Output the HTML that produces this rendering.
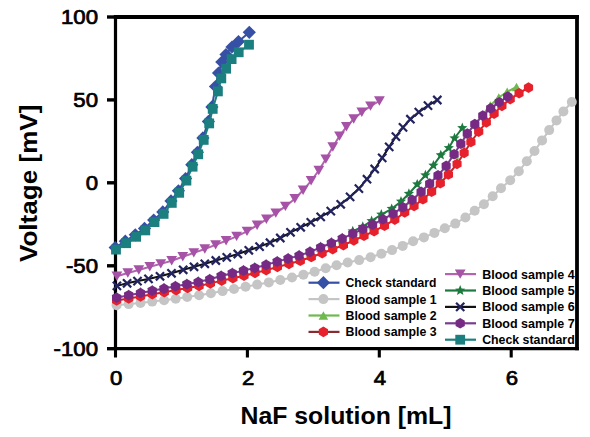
<!DOCTYPE html>
<html><head><meta charset="utf-8"><style>
html,body{margin:0;padding:0;background:#fff;width:590px;height:437px;overflow:hidden}
svg{display:block}
text{font-family:"Liberation Sans",sans-serif;font-weight:bold;fill:#000}
.lg{font-size:12.4px}
.tk{font-size:19.3px;font-weight:normal;stroke:#000;stroke-width:0.7px}
.ax{font-size:23px}
</style></head><body>
<svg width="590" height="437" viewBox="0 0 590 437">
<path d="M113.9 17H578.9" fill="none" stroke="#000" stroke-width="4"/>
<path d="M113.9 348.7H578.9" fill="none" stroke="#000" stroke-width="3.3"/>
<path d="M115.5 15V350.34999999999997" fill="none" stroke="#000" stroke-width="3.2"/>
<path d="M577 15V350.34999999999997" fill="none" stroke="#000" stroke-width="3.8"/>
<path d="M107 17.0H115.5" stroke="#000" stroke-width="3.4"/>
<path d="M107 99.9H115.5" stroke="#000" stroke-width="3.4"/>
<path d="M107 182.8H115.5" stroke="#000" stroke-width="3.4"/>
<path d="M107 265.8H115.5" stroke="#000" stroke-width="3.4"/>
<path d="M107 348.7H115.5" stroke="#000" stroke-width="3.4"/>
<path d="M115.5 348.7V357.5" stroke="#000" stroke-width="3.1"/>
<path d="M247.4 348.7V357.5" stroke="#000" stroke-width="3.1"/>
<path d="M379.3 348.7V357.5" stroke="#000" stroke-width="3.1"/>
<path d="M511.2 348.7V357.5" stroke="#000" stroke-width="3.1"/>
<path d="M115.2 247.6L125.3 241.2L135.3 234.8L144.5 228.4L153.7 220.1L162.8 211.9L171.0 200.9L178.4 190.8L185.6 178.6L191.8 164.7L197.4 152.3L202.9 137.9L208.4 121.4L211.9 106.9L215.5 86.5L218.5 73.0L221.8 62.0L226.0 54.5L232.0 47.0L238.5 41.5L249.3 32.3" fill="none" stroke="#3550a5" stroke-width="2"/>
<path d="M115.2 241.0L121.8 247.6L115.2 254.2L108.6 247.6Z" fill="#3550a5"/>
<path d="M125.3 234.6L131.9 241.2L125.3 247.8L118.7 241.2Z" fill="#3550a5"/>
<path d="M135.3 228.2L141.9 234.8L135.3 241.4L128.7 234.8Z" fill="#3550a5"/>
<path d="M144.5 221.8L151.1 228.4L144.5 235.0L137.9 228.4Z" fill="#3550a5"/>
<path d="M153.7 213.5L160.3 220.1L153.7 226.7L147.1 220.1Z" fill="#3550a5"/>
<path d="M162.8 205.3L169.4 211.9L162.8 218.5L156.2 211.9Z" fill="#3550a5"/>
<path d="M171.0 194.3L177.6 200.9L171.0 207.5L164.4 200.9Z" fill="#3550a5"/>
<path d="M178.4 184.2L185.0 190.8L178.4 197.4L171.8 190.8Z" fill="#3550a5"/>
<path d="M185.6 172.0L192.2 178.6L185.6 185.2L179.0 178.6Z" fill="#3550a5"/>
<path d="M191.8 158.1L198.4 164.7L191.8 171.3L185.2 164.7Z" fill="#3550a5"/>
<path d="M197.4 145.7L204.0 152.3L197.4 158.9L190.8 152.3Z" fill="#3550a5"/>
<path d="M202.9 131.3L209.5 137.9L202.9 144.5L196.3 137.9Z" fill="#3550a5"/>
<path d="M208.4 114.8L215.0 121.4L208.4 128.0L201.8 121.4Z" fill="#3550a5"/>
<path d="M211.9 100.3L218.5 106.9L211.9 113.5L205.3 106.9Z" fill="#3550a5"/>
<path d="M215.5 79.9L222.1 86.5L215.5 93.1L208.9 86.5Z" fill="#3550a5"/>
<path d="M218.5 66.4L225.1 73.0L218.5 79.6L211.9 73.0Z" fill="#3550a5"/>
<path d="M221.8 55.4L228.4 62.0L221.8 68.6L215.2 62.0Z" fill="#3550a5"/>
<path d="M226.0 47.9L232.6 54.5L226.0 61.1L219.4 54.5Z" fill="#3550a5"/>
<path d="M232.0 40.4L238.6 47.0L232.0 53.6L225.4 47.0Z" fill="#3550a5"/>
<path d="M238.5 34.9L245.1 41.5L238.5 48.1L231.9 41.5Z" fill="#3550a5"/>
<path d="M249.3 25.7L255.9 32.3L249.3 38.9L242.7 32.3Z" fill="#3550a5"/>
<path d="M116.6 305.2L128.7 304.1L140.5 302.9L152.2 301.6L164.1 300.3L175.7 298.8L187.2 297.0L199.1 295.2L210.9 293.2L222.6 291.1L234.0 289.0L245.6 286.8L257.2 284.6L268.8 282.4L280.3 280.0L292.0 277.5L303.4 274.8L314.6 271.7L325.7 268.2L336.6 265.2L347.7 262.5L359.2 260.1L370.6 257.2L381.4 253.8L392.1 250.1L402.7 245.9L413.1 241.3L423.9 237.4L434.4 232.9L444.8 228.3L455.3 223.6L465.4 217.5L474.7 210.7L483.9 204.2L492.7 196.2L501.0 188.3L510.2 180.2L518.8 171.2L526.8 161.3L534.5 151.0L542.1 140.4L549.2 130.1L556.5 120.4L563.4 111.5L571.8 102.0" fill="none" stroke="#c5c5c5" stroke-width="2"/>
<circle cx="116.6" cy="305.2" r="5.0" fill="#c5c5c5"/>
<circle cx="128.7" cy="304.1" r="5.0" fill="#c5c5c5"/>
<circle cx="140.5" cy="302.9" r="5.0" fill="#c5c5c5"/>
<circle cx="152.2" cy="301.6" r="5.0" fill="#c5c5c5"/>
<circle cx="164.1" cy="300.3" r="5.0" fill="#c5c5c5"/>
<circle cx="175.7" cy="298.8" r="5.0" fill="#c5c5c5"/>
<circle cx="187.2" cy="297.0" r="5.0" fill="#c5c5c5"/>
<circle cx="199.1" cy="295.2" r="5.0" fill="#c5c5c5"/>
<circle cx="210.9" cy="293.2" r="5.0" fill="#c5c5c5"/>
<circle cx="222.6" cy="291.1" r="5.0" fill="#c5c5c5"/>
<circle cx="234.0" cy="289.0" r="5.0" fill="#c5c5c5"/>
<circle cx="245.6" cy="286.8" r="5.0" fill="#c5c5c5"/>
<circle cx="257.2" cy="284.6" r="5.0" fill="#c5c5c5"/>
<circle cx="268.8" cy="282.4" r="5.0" fill="#c5c5c5"/>
<circle cx="280.3" cy="280.0" r="5.0" fill="#c5c5c5"/>
<circle cx="292.0" cy="277.5" r="5.0" fill="#c5c5c5"/>
<circle cx="303.4" cy="274.8" r="5.0" fill="#c5c5c5"/>
<circle cx="314.6" cy="271.7" r="5.0" fill="#c5c5c5"/>
<circle cx="325.7" cy="268.2" r="5.0" fill="#c5c5c5"/>
<circle cx="336.6" cy="265.2" r="5.0" fill="#c5c5c5"/>
<circle cx="347.7" cy="262.5" r="5.0" fill="#c5c5c5"/>
<circle cx="359.2" cy="260.1" r="5.0" fill="#c5c5c5"/>
<circle cx="370.6" cy="257.2" r="5.0" fill="#c5c5c5"/>
<circle cx="381.4" cy="253.8" r="5.0" fill="#c5c5c5"/>
<circle cx="392.1" cy="250.1" r="5.0" fill="#c5c5c5"/>
<circle cx="402.7" cy="245.9" r="5.0" fill="#c5c5c5"/>
<circle cx="413.1" cy="241.3" r="5.0" fill="#c5c5c5"/>
<circle cx="423.9" cy="237.4" r="5.0" fill="#c5c5c5"/>
<circle cx="434.4" cy="232.9" r="5.0" fill="#c5c5c5"/>
<circle cx="444.8" cy="228.3" r="5.0" fill="#c5c5c5"/>
<circle cx="455.3" cy="223.6" r="5.0" fill="#c5c5c5"/>
<circle cx="465.4" cy="217.5" r="5.0" fill="#c5c5c5"/>
<circle cx="474.7" cy="210.7" r="5.0" fill="#c5c5c5"/>
<circle cx="483.9" cy="204.2" r="5.0" fill="#c5c5c5"/>
<circle cx="492.7" cy="196.2" r="5.0" fill="#c5c5c5"/>
<circle cx="501.0" cy="188.3" r="5.0" fill="#c5c5c5"/>
<circle cx="510.2" cy="180.2" r="5.0" fill="#c5c5c5"/>
<circle cx="518.8" cy="171.2" r="5.0" fill="#c5c5c5"/>
<circle cx="526.8" cy="161.3" r="5.0" fill="#c5c5c5"/>
<circle cx="534.5" cy="151.0" r="5.0" fill="#c5c5c5"/>
<circle cx="542.1" cy="140.4" r="5.0" fill="#c5c5c5"/>
<circle cx="549.2" cy="130.1" r="5.0" fill="#c5c5c5"/>
<circle cx="556.5" cy="120.4" r="5.0" fill="#c5c5c5"/>
<circle cx="563.4" cy="111.5" r="5.0" fill="#c5c5c5"/>
<circle cx="571.8" cy="102.0" r="5.0" fill="#c5c5c5"/>
<path d="M475.1 124.4L490.3 105.5L498.8 97.5L507.2 91.8L516.5 87.0" fill="none" stroke="#6fb94f" stroke-width="2"/>
<path d="M116.9 293.7L121.7 302.3L112.1 302.3Z" fill="#6fb94f"/>
<path d="M129.0 291.3L133.8 299.9L124.2 299.9Z" fill="#6fb94f"/>
<path d="M140.8 289.0L145.6 297.6L136.0 297.6Z" fill="#6fb94f"/>
<path d="M152.5 286.7L157.3 295.3L147.7 295.3Z" fill="#6fb94f"/>
<path d="M164.3 284.6L169.1 293.2L159.5 293.2Z" fill="#6fb94f"/>
<path d="M175.7 282.3L180.5 290.9L170.9 290.9Z" fill="#6fb94f"/>
<path d="M187.2 280.2L192.0 288.8L182.4 288.8Z" fill="#6fb94f"/>
<path d="M198.5 278.0L203.3 286.6L193.7 286.6Z" fill="#6fb94f"/>
<path d="M210.0 275.3L214.8 283.9L205.2 283.9Z" fill="#6fb94f"/>
<path d="M221.4 272.0L226.2 280.6L216.6 280.6Z" fill="#6fb94f"/>
<path d="M232.6 269.2L237.4 277.8L227.8 277.8Z" fill="#6fb94f"/>
<path d="M243.8 266.6L248.6 275.2L239.0 275.2Z" fill="#6fb94f"/>
<path d="M255.1 264.0L259.9 272.6L250.3 272.6Z" fill="#6fb94f"/>
<path d="M266.4 260.9L271.2 269.5L261.6 269.5Z" fill="#6fb94f"/>
<path d="M277.5 257.6L282.3 266.2L272.7 266.2Z" fill="#6fb94f"/>
<path d="M288.4 254.6L293.2 263.2L283.6 263.2Z" fill="#6fb94f"/>
<path d="M299.4 251.6L304.2 260.2L294.6 260.2Z" fill="#6fb94f"/>
<path d="M310.3 247.9L315.1 256.5L305.5 256.5Z" fill="#6fb94f"/>
<path d="M320.9 243.5L325.7 252.1L316.1 252.1Z" fill="#6fb94f"/>
<path d="M331.7 239.0L336.5 247.6L326.9 247.6Z" fill="#6fb94f"/>
<path d="M342.5 234.6L347.3 243.2L337.7 243.2Z" fill="#6fb94f"/>
<path d="M353.1 229.6L357.9 238.2L348.3 238.2Z" fill="#6fb94f"/>
<path d="M363.1 225.0L367.9 233.6L358.3 233.6Z" fill="#6fb94f"/>
<path d="M372.9 220.6L377.7 229.2L368.1 229.2Z" fill="#6fb94f"/>
<path d="M383.2 215.3L388.0 223.9L378.4 223.9Z" fill="#6fb94f"/>
<path d="M393.4 209.6L398.2 218.2L388.6 218.2Z" fill="#6fb94f"/>
<path d="M403.1 203.3L407.9 211.9L398.3 211.9Z" fill="#6fb94f"/>
<path d="M412.4 195.9L417.2 204.5L407.6 204.5Z" fill="#6fb94f"/>
<path d="M421.4 187.8L426.2 196.4L416.6 196.4Z" fill="#6fb94f"/>
<path d="M430.0 179.5L434.8 188.1L425.2 188.1Z" fill="#6fb94f"/>
<path d="M438.3 171.3L443.1 179.9L433.5 179.9Z" fill="#6fb94f"/>
<path d="M446.5 161.9L451.3 170.5L441.7 170.5Z" fill="#6fb94f"/>
<path d="M454.4 150.2L459.2 158.8L449.6 158.8Z" fill="#6fb94f"/>
<path d="M461.1 139.7L465.9 148.3L456.3 148.3Z" fill="#6fb94f"/>
<path d="M467.6 129.6L472.4 138.2L462.8 138.2Z" fill="#6fb94f"/>
<path d="M475.1 120.1L479.9 128.7L470.3 128.7Z" fill="#6fb94f"/>
<path d="M490.3 101.2L495.1 109.8L485.5 109.8Z" fill="#6fb94f"/>
<path d="M498.8 93.2L503.6 101.8L494.0 101.8Z" fill="#6fb94f"/>
<path d="M507.2 87.5L512.0 96.1L502.4 96.1Z" fill="#6fb94f"/>
<path d="M516.5 82.7L521.3 91.3L511.7 91.3Z" fill="#6fb94f"/>
<path d="M116.6 300.5L128.7 298.5L140.5 296.4L152.3 294.2L164.3 292.2L176.2 290.1L187.6 288.0L199.1 285.9L210.4 283.4L221.7 280.6L232.9 278.2L244.0 275.7L255.0 273.0L266.2 270.1L277.4 267.0L289.0 263.9L300.3 260.7L311.3 257.0L322.2 253.2L332.7 249.2L343.4 245.1L353.8 240.5L364.0 235.8L374.1 231.1L384.5 225.7L394.8 219.6L404.7 212.5L414.1 206.0L422.9 199.3L431.6 191.7L440.3 183.3L448.4 174.5L457.0 164.0L464.2 152.9L470.9 142.0L478.7 131.7L486.3 122.4L494.1 113.6L501.9 105.9L510.2 99.1L519.1 93.2L528.5 87.6" fill="none" stroke="#c8242c" stroke-width="2"/>
<path d="M116.6 295.2L112.0 297.9L112.0 303.1L116.6 305.8L121.2 303.1L121.2 297.9Z" fill="#e7212c"/>
<path d="M128.7 293.2L124.1 295.9L124.1 301.1L128.7 303.8L133.3 301.1L133.3 295.9Z" fill="#e7212c"/>
<path d="M140.5 291.1L135.9 293.8L135.9 299.1L140.5 301.7L145.1 299.1L145.1 293.8Z" fill="#e7212c"/>
<path d="M152.3 288.9L147.7 291.5L147.7 296.8L152.3 299.5L156.9 296.8L156.9 291.5Z" fill="#e7212c"/>
<path d="M164.3 286.9L159.8 289.5L159.8 294.8L164.3 297.5L168.9 294.8L168.9 289.5Z" fill="#e7212c"/>
<path d="M176.2 284.8L171.6 287.4L171.6 292.7L176.2 295.4L180.7 292.7L180.7 287.4Z" fill="#e7212c"/>
<path d="M187.6 282.7L183.0 285.4L183.0 290.6L187.6 293.3L192.2 290.6L192.2 285.4Z" fill="#e7212c"/>
<path d="M199.1 280.6L194.5 283.3L194.5 288.6L199.1 291.2L203.7 288.6L203.7 283.3Z" fill="#e7212c"/>
<path d="M210.4 278.1L205.8 280.8L205.8 286.1L210.4 288.7L215.0 286.1L215.0 280.8Z" fill="#e7212c"/>
<path d="M221.7 275.3L217.1 277.9L217.1 283.2L221.7 285.9L226.3 283.2L226.3 277.9Z" fill="#e7212c"/>
<path d="M232.9 272.9L228.3 275.5L228.3 280.8L232.9 283.5L237.5 280.8L237.5 275.5Z" fill="#e7212c"/>
<path d="M244.0 270.4L239.4 273.0L239.4 278.3L244.0 281.0L248.6 278.3L248.6 273.0Z" fill="#e7212c"/>
<path d="M255.0 267.7L250.5 270.3L250.5 275.6L255.0 278.3L259.6 275.6L259.6 270.3Z" fill="#e7212c"/>
<path d="M266.2 264.8L261.6 267.4L261.6 272.7L266.2 275.4L270.8 272.7L270.8 267.4Z" fill="#e7212c"/>
<path d="M277.4 261.7L272.9 264.3L272.9 269.6L277.4 272.3L282.0 269.6L282.0 264.3Z" fill="#e7212c"/>
<path d="M289.0 258.6L284.4 261.2L284.4 266.5L289.0 269.2L293.6 266.5L293.6 261.2Z" fill="#e7212c"/>
<path d="M300.3 255.4L295.7 258.1L295.7 263.4L300.3 266.0L304.9 263.4L304.9 258.1Z" fill="#e7212c"/>
<path d="M311.3 251.7L306.7 254.4L306.7 259.7L311.3 262.3L315.9 259.7L315.9 254.4Z" fill="#e7212c"/>
<path d="M322.2 247.9L317.6 250.5L317.6 255.8L322.2 258.5L326.7 255.8L326.7 250.5Z" fill="#e7212c"/>
<path d="M332.7 243.9L328.1 246.5L328.1 251.8L332.7 254.5L337.3 251.8L337.3 246.5Z" fill="#e7212c"/>
<path d="M343.4 239.8L338.8 242.4L338.8 247.7L343.4 250.4L348.0 247.7L348.0 242.4Z" fill="#e7212c"/>
<path d="M353.8 235.2L349.2 237.8L349.2 243.1L353.8 245.8L358.4 243.1L358.4 237.8Z" fill="#e7212c"/>
<path d="M364.0 230.5L359.4 233.2L359.4 238.5L364.0 241.1L368.6 238.5L368.6 233.2Z" fill="#e7212c"/>
<path d="M374.1 225.8L369.5 228.4L369.5 233.7L374.1 236.4L378.7 233.7L378.7 228.4Z" fill="#e7212c"/>
<path d="M384.5 220.4L379.9 223.1L379.9 228.4L384.5 231.0L389.1 228.4L389.1 223.1Z" fill="#e7212c"/>
<path d="M394.8 214.3L390.2 216.9L390.2 222.2L394.8 224.9L399.4 222.2L399.4 216.9Z" fill="#e7212c"/>
<path d="M404.7 207.2L400.1 209.8L400.1 215.1L404.7 217.8L409.3 215.1L409.3 209.8Z" fill="#e7212c"/>
<path d="M414.1 200.7L409.5 203.4L409.5 208.7L414.1 211.3L418.6 208.7L418.6 203.4Z" fill="#e7212c"/>
<path d="M422.9 194.0L418.3 196.6L418.3 201.9L422.9 204.6L427.5 201.9L427.5 196.6Z" fill="#e7212c"/>
<path d="M431.6 186.4L427.0 189.1L427.0 194.4L431.6 197.0L436.2 194.4L436.2 189.1Z" fill="#e7212c"/>
<path d="M440.3 178.0L435.7 180.7L435.7 186.0L440.3 188.6L444.9 186.0L444.9 180.7Z" fill="#e7212c"/>
<path d="M448.4 169.2L443.8 171.9L443.8 177.2L448.4 179.8L453.0 177.2L453.0 171.9Z" fill="#e7212c"/>
<path d="M457.0 158.7L452.5 161.3L452.5 166.6L457.0 169.3L461.6 166.6L461.6 161.3Z" fill="#e7212c"/>
<path d="M464.2 147.6L459.6 150.3L459.6 155.6L464.2 158.2L468.7 155.6L468.7 150.3Z" fill="#e7212c"/>
<path d="M470.9 136.7L466.3 139.4L466.3 144.7L470.9 147.3L475.5 144.7L475.5 139.4Z" fill="#e7212c"/>
<path d="M478.7 126.4L474.1 129.0L474.1 134.3L478.7 137.0L483.3 134.3L483.3 129.0Z" fill="#e7212c"/>
<path d="M486.3 117.1L481.8 119.8L481.8 125.1L486.3 127.7L490.9 125.1L490.9 119.8Z" fill="#e7212c"/>
<path d="M494.1 108.3L489.5 110.9L489.5 116.2L494.1 118.9L498.7 116.2L498.7 110.9Z" fill="#e7212c"/>
<path d="M501.9 100.6L497.3 103.2L497.3 108.5L501.9 111.2L506.5 108.5L506.5 103.2Z" fill="#e7212c"/>
<path d="M510.2 93.8L505.6 96.4L505.6 101.7L510.2 104.4L514.8 101.7L514.8 96.4Z" fill="#e7212c"/>
<path d="M519.1 87.9L514.5 90.5L514.5 95.8L519.1 98.5L523.6 95.9L523.6 90.5Z" fill="#e7212c"/>
<path d="M528.5 82.3L523.9 84.9L523.9 90.2L528.5 92.9L533.1 90.2L533.1 84.9Z" fill="#e7212c"/>
<path d="M116.9 276.3L127.8 273.0L138.8 270.0L149.8 266.8L160.8 263.9L171.7 260.8L182.8 256.8L193.8 252.9L204.8 249.0L215.6 244.9L226.1 240.8L236.6 236.4L247.0 231.4L257.1 225.3L266.4 219.3L275.8 213.1L285.4 206.4L294.8 198.7L303.1 190.3L311.1 180.8L318.8 170.5L325.8 159.1L332.8 147.0L339.5 136.1L346.4 126.8L353.7 119.0L361.8 112.3L370.5 106.1L379.4 101.0" fill="none" stroke="#b264ae" stroke-width="2"/>
<path d="M116.9 281.0L122.3 271.6L111.5 271.6Z" fill="#a652a6"/>
<path d="M127.8 277.7L133.2 268.3L122.4 268.3Z" fill="#a652a6"/>
<path d="M138.8 274.7L144.2 265.3L133.4 265.3Z" fill="#a652a6"/>
<path d="M149.8 271.5L155.2 262.1L144.4 262.1Z" fill="#a652a6"/>
<path d="M160.8 268.6L166.2 259.2L155.4 259.2Z" fill="#a652a6"/>
<path d="M171.7 265.5L177.1 256.1L166.3 256.1Z" fill="#a652a6"/>
<path d="M182.8 261.5L188.2 252.1L177.4 252.1Z" fill="#a652a6"/>
<path d="M193.8 257.6L199.2 248.2L188.4 248.2Z" fill="#a652a6"/>
<path d="M204.8 253.7L210.2 244.3L199.4 244.3Z" fill="#a652a6"/>
<path d="M215.6 249.6L221.0 240.2L210.2 240.2Z" fill="#a652a6"/>
<path d="M226.1 245.5L231.5 236.1L220.7 236.1Z" fill="#a652a6"/>
<path d="M236.6 241.1L242.0 231.7L231.2 231.7Z" fill="#a652a6"/>
<path d="M247.0 236.1L252.4 226.7L241.6 226.7Z" fill="#a652a6"/>
<path d="M257.1 230.0L262.5 220.6L251.7 220.6Z" fill="#a652a6"/>
<path d="M266.4 224.0L271.8 214.6L261.0 214.6Z" fill="#a652a6"/>
<path d="M275.8 217.8L281.2 208.4L270.4 208.4Z" fill="#a652a6"/>
<path d="M285.4 211.1L290.8 201.7L280.0 201.7Z" fill="#a652a6"/>
<path d="M294.8 203.4L300.2 194.0L289.4 194.0Z" fill="#a652a6"/>
<path d="M303.1 195.0L308.5 185.6L297.7 185.6Z" fill="#a652a6"/>
<path d="M311.1 185.5L316.5 176.1L305.7 176.1Z" fill="#a652a6"/>
<path d="M318.8 175.2L324.2 165.8L313.4 165.8Z" fill="#a652a6"/>
<path d="M325.8 163.8L331.2 154.4L320.4 154.4Z" fill="#a652a6"/>
<path d="M332.8 151.7L338.2 142.3L327.4 142.3Z" fill="#a652a6"/>
<path d="M339.5 140.8L344.9 131.4L334.1 131.4Z" fill="#a652a6"/>
<path d="M346.4 131.5L351.8 122.1L341.0 122.1Z" fill="#a652a6"/>
<path d="M353.7 123.7L359.1 114.3L348.3 114.3Z" fill="#a652a6"/>
<path d="M361.8 117.0L367.2 107.6L356.4 107.6Z" fill="#a652a6"/>
<path d="M370.5 110.8L375.9 101.4L365.1 101.4Z" fill="#a652a6"/>
<path d="M379.4 105.7L384.8 96.3L374.0 96.3Z" fill="#a652a6"/>
<path d="M352.8 231.2L362.8 226.6L371.6 220.9L381.3 214.5L391.7 208.8L401.0 201.5L408.9 193.7L417.2 184.3L425.4 175.2L433.4 165.4L440.8 155.1L448.8 147.9L454.5 138.2L462.3 128.0" fill="none" stroke="#1d7a3f" stroke-width="2"/>
<path d="M116.6 291.8L115.2 295.2L111.5 295.5L114.3 298.0L113.4 301.6L116.6 299.6L119.8 301.6L118.9 298.0L121.7 295.5L118.0 295.2Z" fill="#1d7a3f"/>
<path d="M128.7 289.4L127.3 292.8L123.6 293.1L126.4 295.5L125.5 299.1L128.7 297.2L131.9 299.1L131.0 295.5L133.8 293.1L130.1 292.8Z" fill="#1d7a3f"/>
<path d="M140.5 287.1L139.1 290.6L135.4 290.9L138.2 293.3L137.3 296.9L140.5 294.9L143.7 296.9L142.8 293.3L145.6 290.9L141.9 290.6Z" fill="#1d7a3f"/>
<path d="M152.2 284.8L150.8 288.3L147.1 288.6L149.9 291.0L149.1 294.6L152.2 292.7L155.4 294.6L154.6 291.0L157.4 288.6L153.7 288.3Z" fill="#1d7a3f"/>
<path d="M164.0 282.7L162.5 286.1L158.8 286.4L161.6 288.8L160.8 292.4L164.0 290.5L167.1 292.4L166.3 288.8L169.1 286.4L165.4 286.1Z" fill="#1d7a3f"/>
<path d="M175.4 280.4L174.0 283.8L170.3 284.1L173.1 286.6L172.2 290.2L175.4 288.2L178.6 290.2L177.7 286.6L180.5 284.1L176.8 283.8Z" fill="#1d7a3f"/>
<path d="M186.9 278.3L185.5 281.7L181.7 282.0L184.6 284.4L183.7 288.0L186.9 286.1L190.1 288.0L189.2 284.4L192.0 282.0L188.3 281.7Z" fill="#1d7a3f"/>
<path d="M198.2 276.1L196.8 279.6L193.1 279.9L195.9 282.3L195.0 285.9L198.2 284.0L201.4 285.9L200.5 282.3L203.4 279.9L199.6 279.6Z" fill="#1d7a3f"/>
<path d="M209.7 273.4L208.3 276.9L204.6 277.2L207.4 279.6L206.6 283.2L209.7 281.3L212.9 283.2L212.1 279.6L214.9 277.2L211.2 276.9Z" fill="#1d7a3f"/>
<path d="M221.1 270.1L219.7 273.5L216.0 273.8L218.8 276.2L218.0 279.8L221.1 277.9L224.3 279.8L223.5 276.2L226.3 273.8L222.6 273.5Z" fill="#1d7a3f"/>
<path d="M232.3 267.3L230.9 270.7L227.2 271.0L230.0 273.4L229.1 277.0L232.3 275.1L235.5 277.0L234.6 273.4L237.5 271.0L233.7 270.7Z" fill="#1d7a3f"/>
<path d="M243.5 264.7L242.1 268.2L238.4 268.5L241.2 270.9L240.3 274.5L243.5 272.6L246.7 274.5L245.8 270.9L248.6 268.5L244.9 268.2Z" fill="#1d7a3f"/>
<path d="M254.8 262.1L253.3 265.5L249.6 265.8L252.4 268.2L251.6 271.8L254.8 269.9L257.9 271.8L257.1 268.2L259.9 265.8L256.2 265.5Z" fill="#1d7a3f"/>
<path d="M266.1 259.0L264.7 262.5L261.0 262.8L263.8 265.2L262.9 268.8L266.1 266.9L269.3 268.8L268.4 265.2L271.3 262.8L267.5 262.5Z" fill="#1d7a3f"/>
<path d="M277.2 255.7L275.8 259.2L272.1 259.5L274.9 261.9L274.0 265.5L277.2 263.6L280.4 265.5L279.5 261.9L282.4 259.5L278.6 259.2Z" fill="#1d7a3f"/>
<path d="M288.1 252.7L286.7 256.2L283.0 256.5L285.8 258.9L284.9 262.5L288.1 260.6L291.3 262.5L290.4 258.9L293.2 256.5L289.5 256.2Z" fill="#1d7a3f"/>
<path d="M299.1 249.7L297.7 253.1L294.0 253.4L296.8 255.9L295.9 259.5L299.1 257.5L302.3 259.5L301.4 255.9L304.3 253.4L300.5 253.1Z" fill="#1d7a3f"/>
<path d="M310.0 246.0L308.5 249.4L304.8 249.7L307.6 252.1L306.8 255.7L310.0 253.8L313.1 255.7L312.3 252.1L315.1 249.7L311.4 249.4Z" fill="#1d7a3f"/>
<path d="M320.6 241.6L319.2 245.0L315.5 245.3L318.3 247.7L317.5 251.3L320.6 249.4L323.8 251.3L323.0 247.7L325.8 245.3L322.1 245.0Z" fill="#1d7a3f"/>
<path d="M331.4 237.1L330.0 240.6L326.3 240.9L329.1 243.3L328.2 246.9L331.4 245.0L334.6 246.9L333.7 243.3L336.6 240.9L332.8 240.6Z" fill="#1d7a3f"/>
<path d="M342.2 232.7L340.8 236.1L337.1 236.4L339.9 238.8L339.1 242.4L342.2 240.5L345.4 242.4L344.6 238.8L347.4 236.4L343.7 236.1Z" fill="#1d7a3f"/>
<path d="M352.8 225.8L351.3 229.2L347.6 229.5L350.5 231.9L349.6 235.5L352.8 233.6L355.9 235.5L355.1 231.9L357.9 229.5L354.2 229.2Z" fill="#1d7a3f"/>
<path d="M362.8 221.2L361.3 224.7L357.6 225.0L360.5 227.4L359.6 231.0L362.8 229.1L365.9 231.0L365.1 227.4L367.9 225.0L364.2 224.7Z" fill="#1d7a3f"/>
<path d="M371.6 215.5L370.2 218.9L366.5 219.2L369.3 221.7L368.4 225.3L371.6 223.3L374.8 225.3L373.9 221.7L376.7 219.2L373.0 218.9Z" fill="#1d7a3f"/>
<path d="M381.3 209.1L379.9 212.5L376.2 212.8L379.0 215.3L378.1 218.9L381.3 216.9L384.5 218.9L383.6 215.3L386.4 212.8L382.7 212.5Z" fill="#1d7a3f"/>
<path d="M391.7 203.4L390.3 206.8L386.6 207.1L389.4 209.6L388.5 213.2L391.7 211.2L394.9 213.2L394.0 209.6L396.8 207.1L393.1 206.8Z" fill="#1d7a3f"/>
<path d="M401.0 196.1L399.6 199.5L395.9 199.8L398.7 202.3L397.8 205.9L401.0 203.9L404.2 205.9L403.3 202.3L406.1 199.8L402.4 199.5Z" fill="#1d7a3f"/>
<path d="M408.9 188.3L407.5 191.7L403.8 192.0L406.6 194.5L405.7 198.1L408.9 196.1L412.1 198.1L411.2 194.5L414.0 192.0L410.3 191.7Z" fill="#1d7a3f"/>
<path d="M417.2 178.9L415.8 182.3L412.1 182.6L414.9 185.1L414.0 188.7L417.2 186.7L420.4 188.7L419.5 185.1L422.3 182.6L418.6 182.3Z" fill="#1d7a3f"/>
<path d="M425.4 169.8L424.0 173.2L420.3 173.5L423.1 176.0L422.2 179.6L425.4 177.6L428.6 179.6L427.7 176.0L430.5 173.5L426.8 173.2Z" fill="#1d7a3f"/>
<path d="M433.4 160.0L432.0 163.4L428.3 163.7L431.1 166.2L430.2 169.8L433.4 167.8L436.6 169.8L435.7 166.2L438.5 163.7L434.8 163.4Z" fill="#1d7a3f"/>
<path d="M440.8 149.7L439.4 153.1L435.7 153.4L438.5 155.9L437.6 159.5L440.8 157.5L444.0 159.5L443.1 155.9L445.9 153.4L442.2 153.1Z" fill="#1d7a3f"/>
<path d="M448.8 142.5L447.4 145.9L443.7 146.2L446.5 148.7L445.6 152.3L448.8 150.3L452.0 152.3L451.1 148.7L453.9 146.2L450.2 145.9Z" fill="#1d7a3f"/>
<path d="M454.5 132.8L453.1 136.2L449.4 136.5L452.2 139.0L451.3 142.6L454.5 140.6L457.7 142.6L456.8 139.0L459.6 136.5L455.9 136.2Z" fill="#1d7a3f"/>
<path d="M462.3 122.6L460.9 126.0L457.2 126.3L460.0 128.8L459.1 132.4L462.3 130.4L465.5 132.4L464.6 128.8L467.4 126.3L463.7 126.0Z" fill="#1d7a3f"/>
<path d="M116.9 285.9L127.1 283.3L137.5 281.1L148.5 278.9L160.0 276.3L171.5 273.3L183.2 269.8L194.0 266.8L204.8 263.8L215.8 260.5L226.8 257.4L237.8 254.0L248.8 250.3L259.6 246.6L270.0 242.7L280.3 238.0L290.5 232.3L300.7 227.3L310.8 222.4L320.7 216.9L330.8 211.1L340.7 204.3L350.1 196.9L358.9 188.6L367.0 179.2L374.7 169.0L382.2 157.9L389.2 146.9L395.9 136.6L403.0 127.4L410.4 119.2L418.8 112.1L428.0 105.6L437.3 100.0" fill="none" stroke="#111" stroke-width="2"/>
<path d="M112.8 281.8L121.0 290.0M121.0 281.8L112.8 290.0" stroke="#22235f" stroke-width="2.2" fill="none"/>
<path d="M123.0 279.2L131.2 287.4M131.2 279.2L123.0 287.4" stroke="#22235f" stroke-width="2.2" fill="none"/>
<path d="M133.4 277.0L141.6 285.2M141.6 277.0L133.4 285.2" stroke="#22235f" stroke-width="2.2" fill="none"/>
<path d="M144.4 274.8L152.6 283.0M152.6 274.8L144.4 283.0" stroke="#22235f" stroke-width="2.2" fill="none"/>
<path d="M155.9 272.2L164.1 280.4M164.1 272.2L155.9 280.4" stroke="#22235f" stroke-width="2.2" fill="none"/>
<path d="M167.4 269.2L175.6 277.4M175.6 269.2L167.4 277.4" stroke="#22235f" stroke-width="2.2" fill="none"/>
<path d="M179.1 265.7L187.3 273.9M187.3 265.7L179.1 273.9" stroke="#22235f" stroke-width="2.2" fill="none"/>
<path d="M189.9 262.7L198.1 270.9M198.1 262.7L189.9 270.9" stroke="#22235f" stroke-width="2.2" fill="none"/>
<path d="M200.7 259.7L208.9 267.9M208.9 259.7L200.7 267.9" stroke="#22235f" stroke-width="2.2" fill="none"/>
<path d="M211.7 256.4L219.9 264.6M219.9 256.4L211.7 264.6" stroke="#22235f" stroke-width="2.2" fill="none"/>
<path d="M222.7 253.3L230.9 261.5M230.9 253.3L222.7 261.5" stroke="#22235f" stroke-width="2.2" fill="none"/>
<path d="M233.7 249.9L241.9 258.1M241.9 249.9L233.7 258.1" stroke="#22235f" stroke-width="2.2" fill="none"/>
<path d="M244.7 246.2L252.9 254.4M252.9 246.2L244.7 254.4" stroke="#22235f" stroke-width="2.2" fill="none"/>
<path d="M255.5 242.5L263.7 250.7M263.7 242.5L255.5 250.7" stroke="#22235f" stroke-width="2.2" fill="none"/>
<path d="M265.9 238.6L274.1 246.8M274.1 238.6L265.9 246.8" stroke="#22235f" stroke-width="2.2" fill="none"/>
<path d="M276.2 233.9L284.4 242.1M284.4 233.9L276.2 242.1" stroke="#22235f" stroke-width="2.2" fill="none"/>
<path d="M286.4 228.2L294.6 236.4M294.6 228.2L286.4 236.4" stroke="#22235f" stroke-width="2.2" fill="none"/>
<path d="M296.6 223.2L304.8 231.4M304.8 223.2L296.6 231.4" stroke="#22235f" stroke-width="2.2" fill="none"/>
<path d="M306.7 218.3L314.9 226.5M314.9 218.3L306.7 226.5" stroke="#22235f" stroke-width="2.2" fill="none"/>
<path d="M316.6 212.8L324.8 221.0M324.8 212.8L316.6 221.0" stroke="#22235f" stroke-width="2.2" fill="none"/>
<path d="M326.7 207.0L334.9 215.2M334.9 207.0L326.7 215.2" stroke="#22235f" stroke-width="2.2" fill="none"/>
<path d="M336.6 200.2L344.8 208.4M344.8 200.2L336.6 208.4" stroke="#22235f" stroke-width="2.2" fill="none"/>
<path d="M346.0 192.8L354.2 201.0M354.2 192.8L346.0 201.0" stroke="#22235f" stroke-width="2.2" fill="none"/>
<path d="M354.8 184.5L363.0 192.7M363.0 184.5L354.8 192.7" stroke="#22235f" stroke-width="2.2" fill="none"/>
<path d="M362.9 175.1L371.1 183.3M371.1 175.1L362.9 183.3" stroke="#22235f" stroke-width="2.2" fill="none"/>
<path d="M370.6 164.9L378.8 173.1M378.8 164.9L370.6 173.1" stroke="#22235f" stroke-width="2.2" fill="none"/>
<path d="M378.1 153.8L386.3 162.0M386.3 153.8L378.1 162.0" stroke="#22235f" stroke-width="2.2" fill="none"/>
<path d="M385.1 142.8L393.3 151.0M393.3 142.8L385.1 151.0" stroke="#22235f" stroke-width="2.2" fill="none"/>
<path d="M391.8 132.5L400.0 140.7M400.0 132.5L391.8 140.7" stroke="#22235f" stroke-width="2.2" fill="none"/>
<path d="M398.9 123.3L407.1 131.5M407.1 123.3L398.9 131.5" stroke="#22235f" stroke-width="2.2" fill="none"/>
<path d="M406.3 115.1L414.5 123.3M414.5 115.1L406.3 123.3" stroke="#22235f" stroke-width="2.2" fill="none"/>
<path d="M414.7 108.0L422.9 116.2M422.9 108.0L414.7 116.2" stroke="#22235f" stroke-width="2.2" fill="none"/>
<path d="M423.9 101.5L432.1 109.7M432.1 101.5L423.9 109.7" stroke="#22235f" stroke-width="2.2" fill="none"/>
<path d="M433.2 95.9L441.4 104.1M441.4 95.9L433.2 104.1" stroke="#22235f" stroke-width="2.2" fill="none"/>
<path d="M116.6 297.7L128.7 295.3L140.5 293.0L152.2 290.7L164.0 288.6L175.4 286.3L186.9 284.2L198.2 282.0L209.7 279.3L221.1 276.0L232.3 273.2L243.5 270.6L254.8 268.0L266.1 264.9L277.2 261.6L288.1 258.6L299.1 255.6L310.0 251.9L320.6 247.5L331.4 243.0L342.2 238.6L352.8 233.6L362.8 229.0L372.6 224.6L382.9 219.3L393.1 213.6L402.8 207.3L412.1 199.9L421.1 191.8L429.7 183.5L438.0 175.3L446.2 165.9L454.1 154.2L460.8 143.7L467.3 133.6L474.8 124.1L482.7 115.6L490.7 108.4L499.2 102.2L507.7 96.6" fill="none" stroke="#7a3b92" stroke-width="2"/>
<path d="M116.6 292.4L112.0 295.1L112.0 300.3L116.6 303.0L121.2 300.3L121.2 295.1Z" fill="#762a84"/>
<path d="M128.7 290.0L124.1 292.6L124.1 297.9L128.7 300.6L133.3 297.9L133.3 292.6Z" fill="#762a84"/>
<path d="M140.5 287.7L135.9 290.4L135.9 295.7L140.5 298.3L145.1 295.7L145.1 290.4Z" fill="#762a84"/>
<path d="M152.2 285.4L147.7 288.1L147.7 293.4L152.2 296.0L156.8 293.4L156.8 288.1Z" fill="#762a84"/>
<path d="M164.0 283.3L159.4 285.9L159.4 291.2L164.0 293.9L168.5 291.2L168.5 285.9Z" fill="#762a84"/>
<path d="M175.4 281.0L170.8 283.7L170.8 288.9L175.4 291.6L180.0 288.9L180.0 283.7Z" fill="#762a84"/>
<path d="M186.9 278.9L182.3 281.5L182.3 286.8L186.9 289.5L191.5 286.8L191.5 281.5Z" fill="#762a84"/>
<path d="M198.2 276.7L193.6 279.4L193.6 284.7L198.2 287.3L202.8 284.7L202.8 279.4Z" fill="#762a84"/>
<path d="M209.7 274.0L205.2 276.7L205.2 282.0L209.7 284.6L214.3 282.0L214.3 276.7Z" fill="#762a84"/>
<path d="M221.1 270.7L216.6 273.3L216.6 278.6L221.1 281.3L225.7 278.6L225.7 273.3Z" fill="#762a84"/>
<path d="M232.3 267.9L227.7 270.5L227.7 275.8L232.3 278.5L236.9 275.8L236.9 270.5Z" fill="#762a84"/>
<path d="M243.5 265.3L238.9 268.0L238.9 273.3L243.5 275.9L248.1 273.3L248.1 268.0Z" fill="#762a84"/>
<path d="M254.8 262.7L250.2 265.3L250.2 270.6L254.8 273.3L259.3 270.6L259.3 265.3Z" fill="#762a84"/>
<path d="M266.1 259.6L261.5 262.3L261.5 267.6L266.1 270.2L270.7 267.6L270.7 262.3Z" fill="#762a84"/>
<path d="M277.2 256.3L272.6 259.0L272.6 264.3L277.2 266.9L281.8 264.3L281.8 259.0Z" fill="#762a84"/>
<path d="M288.1 253.3L283.5 256.0L283.5 261.3L288.1 263.9L292.7 261.3L292.7 256.0Z" fill="#762a84"/>
<path d="M299.1 250.3L294.5 252.9L294.5 258.2L299.1 260.9L303.7 258.2L303.7 252.9Z" fill="#762a84"/>
<path d="M310.0 246.6L305.4 249.2L305.4 254.5L310.0 257.2L314.5 254.5L314.5 249.2Z" fill="#762a84"/>
<path d="M320.6 242.2L316.1 244.8L316.1 250.1L320.6 252.8L325.2 250.1L325.2 244.8Z" fill="#762a84"/>
<path d="M331.4 237.7L326.8 240.4L326.8 245.7L331.4 248.3L336.0 245.7L336.0 240.4Z" fill="#762a84"/>
<path d="M342.2 233.3L337.7 235.9L337.7 241.2L342.2 243.9L346.8 241.2L346.8 235.9Z" fill="#762a84"/>
<path d="M352.8 228.3L348.2 230.9L348.2 236.2L352.8 238.9L357.4 236.2L357.4 230.9Z" fill="#762a84"/>
<path d="M362.8 223.7L358.2 226.4L358.2 231.7L362.8 234.3L367.4 231.7L367.4 226.4Z" fill="#762a84"/>
<path d="M372.6 219.3L368.0 222.0L368.0 227.3L372.6 229.9L377.2 227.3L377.2 222.0Z" fill="#762a84"/>
<path d="M382.9 214.0L378.3 216.7L378.3 222.0L382.9 224.6L387.5 222.0L387.5 216.7Z" fill="#762a84"/>
<path d="M393.1 208.3L388.6 211.0L388.6 216.3L393.1 218.9L397.7 216.3L397.7 211.0Z" fill="#762a84"/>
<path d="M402.8 202.0L398.3 204.6L398.3 209.9L402.8 212.6L407.4 209.9L407.4 204.6Z" fill="#762a84"/>
<path d="M412.1 194.6L407.6 197.2L407.6 202.6L412.1 205.2L416.7 202.6L416.7 197.2Z" fill="#762a84"/>
<path d="M421.1 186.5L416.5 189.2L416.5 194.5L421.1 197.1L425.7 194.5L425.7 189.2Z" fill="#762a84"/>
<path d="M429.7 178.2L425.1 180.9L425.1 186.2L429.7 188.8L434.2 186.2L434.2 180.9Z" fill="#762a84"/>
<path d="M438.0 170.0L433.4 172.7L433.4 178.0L438.0 180.6L442.5 178.0L442.5 172.7Z" fill="#762a84"/>
<path d="M446.2 160.6L441.6 163.2L441.6 168.5L446.2 171.2L450.7 168.5L450.7 163.2Z" fill="#762a84"/>
<path d="M454.1 148.9L449.5 151.6L449.5 156.9L454.1 159.5L458.7 156.9L458.7 151.6Z" fill="#762a84"/>
<path d="M460.8 138.4L456.2 141.1L456.2 146.4L460.8 149.0L465.4 146.4L465.4 141.1Z" fill="#762a84"/>
<path d="M467.3 128.3L462.7 131.0L462.7 136.3L467.3 138.9L471.9 136.3L471.9 131.0Z" fill="#762a84"/>
<path d="M474.8 118.8L470.2 121.4L470.2 126.7L474.8 129.4L479.4 126.7L479.4 121.4Z" fill="#762a84"/>
<path d="M482.7 110.3L478.2 112.9L478.2 118.2L482.7 120.9L487.3 118.2L487.3 112.9Z" fill="#762a84"/>
<path d="M490.7 103.1L486.1 105.7L486.1 111.0L490.7 113.7L495.3 111.0L495.3 105.7Z" fill="#762a84"/>
<path d="M499.2 96.9L494.6 99.5L494.6 104.8L499.2 107.5L503.7 104.8L503.7 99.5Z" fill="#762a84"/>
<path d="M507.7 91.3L503.1 93.9L503.1 99.2L507.7 101.9L512.3 99.2L512.3 93.9Z" fill="#762a84"/>
<path d="M116.0 249.6L126.1 243.2L136.1 236.8L145.3 230.4L154.5 222.1L163.6 213.9L171.8 202.9L179.2 192.8L186.4 180.6L192.6 166.7L198.2 154.3L203.7 139.9L209.2 123.4L212.7 108.9L217.9 91.4L221.3 78.4L226.1 68.7L231.6 59.1L238.7 52.3L249.0 44.7" fill="none" stroke="#1b7f7f" stroke-width="2"/>
<rect x="111.1" y="244.7" width="9.8" height="9.8" fill="#1b7f7f"/>
<rect x="121.2" y="238.3" width="9.8" height="9.8" fill="#1b7f7f"/>
<rect x="131.2" y="231.9" width="9.8" height="9.8" fill="#1b7f7f"/>
<rect x="140.4" y="225.5" width="9.8" height="9.8" fill="#1b7f7f"/>
<rect x="149.6" y="217.2" width="9.8" height="9.8" fill="#1b7f7f"/>
<rect x="158.7" y="209.0" width="9.8" height="9.8" fill="#1b7f7f"/>
<rect x="166.9" y="198.0" width="9.8" height="9.8" fill="#1b7f7f"/>
<rect x="174.3" y="187.9" width="9.8" height="9.8" fill="#1b7f7f"/>
<rect x="181.5" y="175.7" width="9.8" height="9.8" fill="#1b7f7f"/>
<rect x="187.7" y="161.8" width="9.8" height="9.8" fill="#1b7f7f"/>
<rect x="193.3" y="149.4" width="9.8" height="9.8" fill="#1b7f7f"/>
<rect x="198.8" y="135.0" width="9.8" height="9.8" fill="#1b7f7f"/>
<rect x="204.3" y="118.5" width="9.8" height="9.8" fill="#1b7f7f"/>
<rect x="207.8" y="104.0" width="9.8" height="9.8" fill="#1b7f7f"/>
<rect x="213.0" y="86.5" width="9.8" height="9.8" fill="#1b7f7f"/>
<rect x="216.4" y="73.5" width="9.8" height="9.8" fill="#1b7f7f"/>
<rect x="221.2" y="63.8" width="9.8" height="9.8" fill="#1b7f7f"/>
<rect x="226.7" y="54.2" width="9.8" height="9.8" fill="#1b7f7f"/>
<rect x="233.8" y="47.4" width="9.8" height="9.8" fill="#1b7f7f"/>
<rect x="244.1" y="39.8" width="9.8" height="9.8" fill="#1b7f7f"/>
<path d="M308.5 282.7H339.5" stroke="#3550a5" stroke-width="2.2"/>
<path d="M323.4 276.1L330.0 282.7L323.4 289.3L316.8 282.7Z" fill="#3550a5"/>
<text x="345.5" y="287.1" class="lg" textLength="91" lengthAdjust="spacingAndGlyphs">Check standard</text>
<path d="M308.5 299.1H339.5" stroke="#c5c5c5" stroke-width="2.2"/>
<circle cx="323.4" cy="299.1" r="5.0" fill="#c5c5c5"/>
<text x="345.5" y="303.5" class="lg" textLength="91" lengthAdjust="spacingAndGlyphs">Blood sample 1</text>
<path d="M308.5 315.5H339.5" stroke="#6fb94f" stroke-width="2.2"/>
<path d="M323.4 311.2L328.2 319.8L318.6 319.8Z" fill="#6fb94f"/>
<text x="345.5" y="319.9" class="lg" textLength="91" lengthAdjust="spacingAndGlyphs">Blood sample 2</text>
<path d="M308.5 331.9H339.5" stroke="#8a2a2e" stroke-width="2.2"/>
<path d="M323.4 326.6L318.8 329.2L318.8 334.5L323.4 337.2L328.0 334.5L328.0 329.2Z" fill="#e7212c"/>
<text x="345.5" y="336.3" class="lg" textLength="91" lengthAdjust="spacingAndGlyphs">Blood sample 3</text>
<path d="M445 274.1H476" stroke="#b264ae" stroke-width="2.2"/>
<path d="M460.2 278.8L465.6 269.4L454.8 269.4Z" fill="#a652a6"/>
<text x="482.2" y="278.5" class="lg" textLength="92.5" lengthAdjust="spacingAndGlyphs">Blood sample 4</text>
<path d="M445 290.5H476" stroke="#1d7a3f" stroke-width="2.2"/>
<path d="M460.2 285.1L458.8 288.5L455.1 288.8L457.9 291.3L457.0 294.9L460.2 292.9L463.4 294.9L462.5 291.3L465.3 288.8L461.6 288.5Z" fill="#1d7a3f"/>
<text x="482.2" y="294.9" class="lg" textLength="92.5" lengthAdjust="spacingAndGlyphs">Blood sample 5</text>
<path d="M445 306.9H476" stroke="#111" stroke-width="2.2"/>
<path d="M456.1 302.8L464.3 311.0M464.3 302.8L456.1 311.0" stroke="#22235f" stroke-width="2.2" fill="none"/>
<text x="482.2" y="311.3" class="lg" textLength="92.5" lengthAdjust="spacingAndGlyphs">Blood sample 6</text>
<path d="M445 323.3H476" stroke="#7a3b92" stroke-width="2.2"/>
<path d="M460.2 318.0L455.6 320.7L455.6 325.9L460.2 328.6L464.8 325.9L464.8 320.7Z" fill="#762a84"/>
<text x="482.2" y="327.7" class="lg" textLength="92.5" lengthAdjust="spacingAndGlyphs">Blood sample 7</text>
<path d="M445 339.7H476" stroke="#1b7f7f" stroke-width="2.2"/>
<rect x="455.3" y="334.8" width="9.8" height="9.8" fill="#1b7f7f"/>
<text x="482.2" y="344.1" class="lg" textLength="92.5" lengthAdjust="spacingAndGlyphs">Check standard</text>
<text transform="translate(98 23.9) scale(1.15 1)" class="tk" text-anchor="end">100</text>
<text transform="translate(98 106.8) scale(1.15 1)" class="tk" text-anchor="end">50</text>
<text transform="translate(98 189.8) scale(1.15 1)" class="tk" text-anchor="end">0</text>
<text transform="translate(98 272.7) scale(1.15 1)" class="tk" text-anchor="end">-50</text>
<text transform="translate(98 355.6) scale(1.15 1)" class="tk" text-anchor="end">-100</text>
<text transform="translate(116.2 384.8) scale(1.15 1)" class="tk" text-anchor="middle">0</text>
<text transform="translate(248.1 384.8) scale(1.15 1)" class="tk" text-anchor="middle">2</text>
<text transform="translate(380.0 384.8) scale(1.15 1)" class="tk" text-anchor="middle">4</text>
<text transform="translate(511.9 384.8) scale(1.15 1)" class="tk" text-anchor="middle">6</text>
<text x="346" y="424.2" class="ax" text-anchor="middle" textLength="211" lengthAdjust="spacingAndGlyphs">NaF solution [mL]</text>
<text transform="translate(37 183.3) rotate(-90)" class="ax" text-anchor="middle" textLength="157.5" lengthAdjust="spacingAndGlyphs">Voltage [mV]</text>
</svg></body></html>
